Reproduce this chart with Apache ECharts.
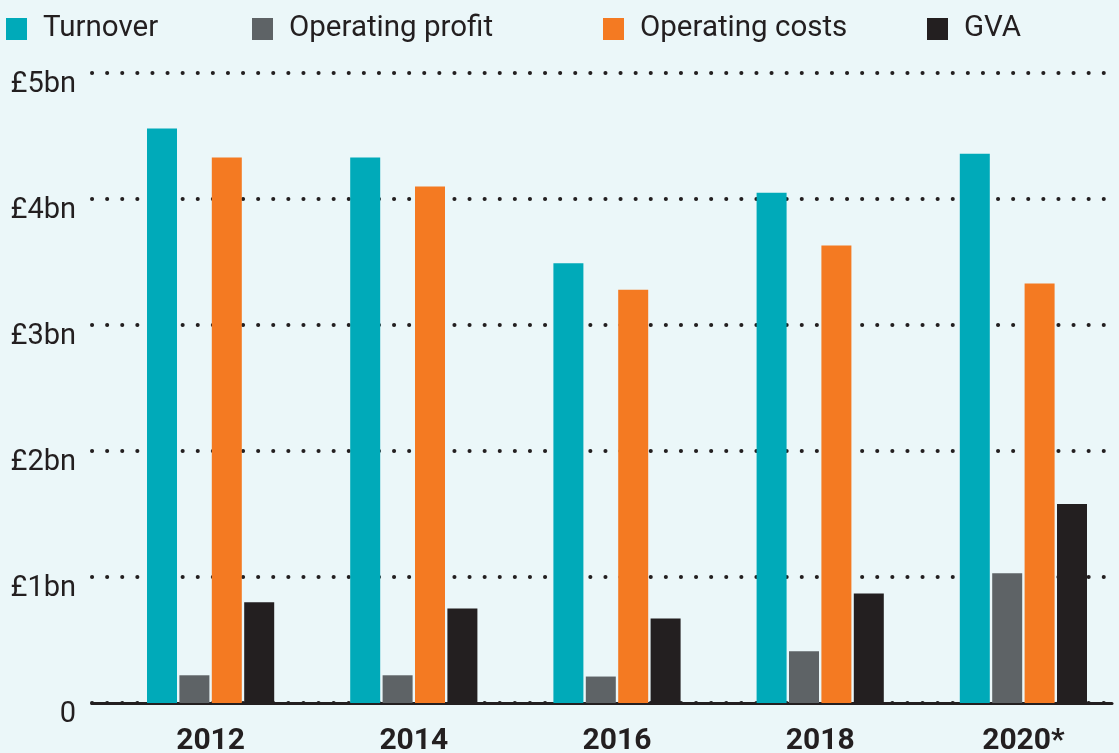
<!DOCTYPE html>
<html>
<head>
<meta charset="utf-8">
<script src="https://cdn.jsdelivr.net/npm/echarts@6/dist/echarts.min.js"></script>
<style>
  html, body { margin: 0; padding: 0; background: #ebf7f9; }
  #chart { width: 1119px; height: 753px; }
</style>
</head>
<body>
<div id="chart"></div>
<script>
// data (£bn)
var years = ['2012', '2014', '2016', '2018', '2020*'];
var turnover = [4.56, 4.33, 3.49, 4.05, 4.36];
var operatingProfit = [0.22, 0.22, 0.21, 0.41, 1.03];
var operatingCosts = [4.33, 4.10, 3.28, 3.63, 3.33];
var gva = [0.80, 0.75, 0.67, 0.87, 1.58];
var yTicks = ['0', '£1bn', '£2bn', '£3bn', '£4bn', '£5bn'];

var seriesNames = ['Turnover', 'Operating profit', 'Operating costs', 'GVA'];
var seriesColors = ['#00aab9', '#5e6366', '#f47a22', '#231f20'];
var seriesData = [turnover, operatingProfit, operatingCosts, gva];
var legendLeft = [6, 252, 603, 927];

var ink = '#231f20';
var chart = echarts.init(document.getElementById('chart'));

var legends = seriesNames.map(function (name, i) {
  return {
    data: [name],
    left: legendLeft[i],
    top: 14,
    padding: 0,
    icon: 'rect',
    itemWidth: 21,
    itemHeight: 22,
    selectedMode: false,
    textStyle: {
      color: ink,
      fontSize: 29.5,
      fontFamily: 'Roboto',
      padding: [2, 0, 0, 11]
    }
  };
});

var series = seriesNames.map(function (name, i) {
  return {
    name: name,
    type: 'bar',
    xAxisIndex: 0,
    yAxisIndex: 0,
    barWidth: 30,
    barGap: '8%',
    itemStyle: { color: seriesColors[i] },
    data: seriesData[i]
  };
});

var option = {
  backgroundColor: '#ebf7f9',
  animation: false,
  legend: legends,
  grid: [
    // bars
    { left: 109, width: 1016, top: 73, bottom: 50, outerBoundsMode: 'none', containLabel: false },
    // gridlines, y labels and baseline
    { left: 92, right: 7, top: 73, bottom: 50, outerBoundsMode: 'none', containLabel: false }
  ],
  xAxis: [
    {
      type: 'category',
      gridIndex: 0,
      data: years,
      axisLine: { show: false },
      axisTick: { show: false },
      axisLabel: {
        color: ink,
        fontSize: 30,
        fontWeight: 'bold',
        fontFamily: 'Roboto',
        margin: 23
      }
    },
    {
      type: 'value',
      gridIndex: 1,
      min: 0,
      max: 1,
      axisLine: { show: true, lineStyle: { color: ink, width: 3 } },
      axisTick: { show: false },
      axisLabel: { show: false },
      splitLine: { show: false }
    }
  ],
  yAxis: [
    {
      type: 'value',
      gridIndex: 0,
      min: 0,
      max: 5,
      interval: 1,
      show: false,
      splitLine: { show: false }
    },
    {
      type: 'value',
      gridIndex: 1,
      min: 0,
      max: 5,
      interval: 1,
      axisLine: { show: false },
      axisTick: { show: false },
      axisLabel: {
        color: ink,
        fontSize: 29,
        fontFamily: 'Roboto',
        margin: 16,
        verticalAlign: 'top',
        lineHeight: 24,
        formatter: function (v) { return yTicks[Math.round(v)]; }
      },
      splitLine: {
        show: true,
        lineStyle: { color: ink, width: 4, type: [0.1, 15], cap: 'round' }
      }
    }
  ],
  series: series
};

chart.setOption(option);
</script>
</body>
</html>
